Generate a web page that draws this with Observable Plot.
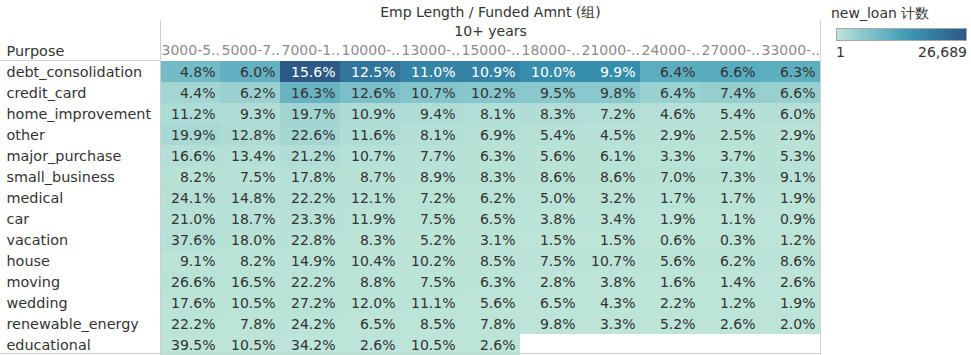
<!DOCTYPE html>
<html>
<head>
<meta charset="utf-8">
<script src="https://cdn.jsdelivr.net/npm/d3@7"></script>
<script src="https://cdn.jsdelivr.net/npm/@observablehq/plot@0.6"></script>
<style>
  html, body { margin: 0; padding: 0; background: #fff; }
  #wrap { position: relative; width: 971px; height: 355px; font-family: "DejaVu Sans", sans-serif; color: #333; }
  #legend { position: absolute; left: 831px; top: 0; width: 140px; font-size: 14px; }
  #legend .title { position: absolute; left: 0; top: 5px; white-space: nowrap; }
  #legend .bar { position: absolute; left: 5px; top: 28px; width: 129px; height: 11px; border: 1px solid #a8a8a8; }
  #legend .lo { position: absolute; left: 5px; top: 44px; }
  #legend .hi { position: absolute; right: 4px; top: 44px; }
</style>
</head>
<body>
<div id="wrap"><div id="legend"></div></div>
<script>
// ---- data ----
const purposes = ["debt_consolidation","credit_card","home_improvement","other","major_purchase",
  "small_business","medical","car","vacation","house","moving","wedding","renewable_energy","educational"];
const columns = ["3000-5..","5000-7..","7000-1..","10000-..","13000-..","15000-..",
  "18000-..","21000-..","24000-..","27000-..","33000-.."];

// percent of row (as printed in each cell)
const debt_consolidation = [4.8, 6.0, 15.6, 12.5, 11.0, 10.9, 10.0, 9.9, 6.4, 6.6, 6.3];
const credit_card        = [4.4, 6.2, 16.3, 12.6, 10.7, 10.2, 9.5, 9.8, 6.4, 7.4, 6.6];
const home_improvement   = [11.2, 9.3, 19.7, 10.9, 9.4, 8.1, 8.3, 7.2, 4.6, 5.4, 6.0];
const other              = [19.9, 12.8, 22.6, 11.6, 8.1, 6.9, 5.4, 4.5, 2.9, 2.5, 2.9];
const major_purchase     = [16.6, 13.4, 21.2, 10.7, 7.7, 6.3, 5.6, 6.1, 3.3, 3.7, 5.3];
const small_business     = [8.2, 7.5, 17.8, 8.7, 8.9, 8.3, 8.6, 8.6, 7.0, 7.3, 9.1];
const medical            = [24.1, 14.8, 22.2, 12.1, 7.2, 6.2, 5.0, 3.2, 1.7, 1.7, 1.9];
const car                = [21.0, 18.7, 23.3, 11.9, 7.5, 6.5, 3.8, 3.4, 1.9, 1.1, 0.9];
const vacation           = [37.6, 18.0, 22.8, 8.3, 5.2, 3.1, 1.5, 1.5, 0.6, 0.3, 1.2];
const house              = [9.1, 8.2, 14.9, 10.4, 10.2, 8.5, 7.5, 10.7, 5.6, 6.2, 8.6];
const moving             = [26.6, 16.5, 22.2, 8.8, 7.5, 6.3, 2.8, 3.8, 1.6, 1.4, 2.6];
const wedding            = [17.6, 10.5, 27.2, 12.0, 11.1, 5.6, 6.5, 4.3, 2.2, 1.2, 1.9];
const renewable_energy   = [22.2, 7.8, 24.2, 6.5, 8.5, 7.8, 9.8, 3.3, 5.2, 2.6, 2.0];
const educational        = [39.5, 10.5, 34.2, 2.6, 10.5, 2.6];

// estimated row totals of new_loan count (read from the cell shading)
const rowTotals = [171100, 58000, 14000, 11000, 5500, 4000, 3200, 2200, 1800, 1300, 1000, 600, 300, 38];
const countMin = 1, countMax = 26689;

const rows = [debt_consolidation, credit_card, home_improvement, other, major_purchase, small_business,
  medical, car, vacation, house, moving, wedding, renewable_energy, educational];

const data = [];
purposes.forEach((p, i) => rows[i].forEach((v, j) => {
  data.push({purpose: p, col: columns[j], pct: v, count: v / 100 * rowTotals[i]});
}));

// Tableau "Blue-Teal" sequential palette
const palette = ["#bce4d8","#aedcd5","#a1d5d2","#95cecf","#89c8cc","#7ec1ca","#72bac6","#66b2c2",
  "#59acbe","#4ba5ba","#419eb6","#3b96b2","#358ead","#3586a7","#347ea1","#32779b","#316f96",
  "#2f6790","#2d608a","#2c5985"];
const interp = d3.interpolateRgbBasis(palette);
const font = "DejaVu Sans, sans-serif";

const ML = 160, MT = 61, MR = 151;

const chart = Plot.plot({
  width: 971,
  height: 355,
  marginLeft: ML, marginRight: MR, marginTop: MT, marginBottom: 0,
  style: {fontFamily: font, fontSize: "14px", background: "white", color: "#333"},
  x: {domain: columns, padding: 0, axis: null},
  y: {domain: purposes, padding: 0, axis: null},
  color: {type: "linear", domain: [countMin, countMax], interpolate: interp},
  marks: [
    Plot.cell(data, {x: "col", y: "purpose", fill: "count", inset: 0, shapeRendering: "crispEdges"}),
    Plot.text(data, {x: "col", y: "purpose", text: d => d.pct.toFixed(1) + "%",
      textAnchor: "end", dx: 25, dy: 0.5, fontSize: 14,
      fill: d => (d.count / countMax > 0.5 ? "white" : "#333")}),
    Plot.text(purposes, {y: d => d, frameAnchor: "left", textAnchor: "start", dx: -154, dy: 0.5,
      fontSize: 14.4, fill: "#333"}),
    Plot.text(columns, {x: d => d, frameAnchor: "top", lineAnchor: "middle", textAnchor: "start",
      dx: -29, dy: -10.5, fontSize: 14, fill: "#8c8c8c"}),
    Plot.text(["Purpose"], {frameAnchor: "top-left", lineAnchor: "middle", textAnchor: "start",
      dx: -154, dy: -10.5, fontSize: 14.4, fill: "#333"}),
    Plot.text(["Emp Length / Funded Amnt (组)"], {frameAnchor: "top", lineAnchor: "middle",
      dy: -49, fontSize: 14, fill: "#333"}),
    Plot.text(["10+ years"], {frameAnchor: "top", lineAnchor: "middle",
      dy: -30, fontSize: 14, fill: "#333"})
  ]
});

// separator lines (table chrome)
const svg = d3.select(chart);
const W = 971, H = 355, gridRight = W - MR;
const lineColor = "#cfcfcf";
svg.append("line").attr("x1", ML + 0.5).attr("x2", ML + 0.5).attr("y1", 20).attr("y2", H).attr("stroke", lineColor);
svg.append("line").attr("x1", gridRight + 0.5).attr("x2", gridRight + 0.5).attr("y1", 20).attr("y2", H).attr("stroke", lineColor);
svg.append("line").attr("x1", 0).attr("x2", ML).attr("y1", MT - 0.5).attr("y2", MT - 0.5).attr("stroke", lineColor);
svg.append("line").attr("x1", 0).attr("x2", gridRight).attr("y1", H - 1.5).attr("y2", H - 1.5).attr("stroke", lineColor);

const wrap = document.getElementById("wrap");
wrap.insertBefore(chart, wrap.firstChild);
chart.style.position = "absolute";
chart.style.left = "0px";
chart.style.top = "0px";

// legend
const stops = d3.range(0, 1.0001, 0.1).map(t => `${interp(t)} ${t * 100}%`).join(",");
const fmt = d3.format(",");
document.getElementById("legend").innerHTML =
  `<div class="title">new_loan 计数</div>
   <div class="bar" style="background: linear-gradient(to right, ${stops});"></div>
   <div class="lo">${fmt(countMin)}</div>
   <div class="hi">${fmt(countMax)}</div>`;
</script>
</body>
</html>
